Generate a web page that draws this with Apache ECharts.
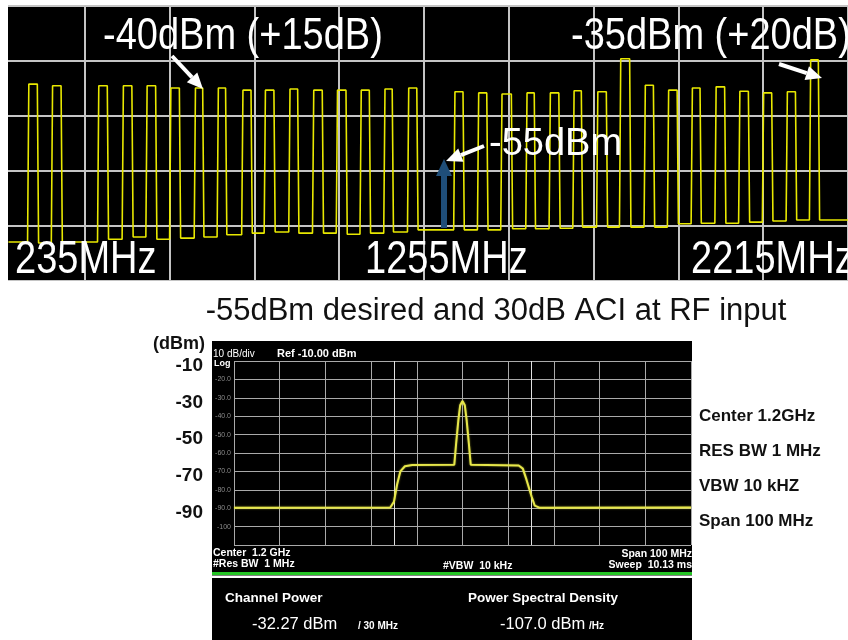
<!DOCTYPE html>
<html>
<head>
<meta charset="utf-8">
<script src="https://cdn.jsdelivr.net/npm/echarts@6/dist/echarts.min.js"></script>
<style>
  html, body { margin: 0; padding: 0; background: #fff; }
  #chart { width: 848px; height: 640px; }
</style>
</head>
<body>
<div id="chart"></div>
<script>
// ---- top panel: broadband scan, 235 MHz .. 2215 MHz, 10 dB/div ----
const chLowMHz  = [280, 336, 445, 503, 559, 615, 673, 727, 785, 838, 896, 952, 1008, 1064, 1120, 1176,
                   1285, 1341, 1396, 1455, 1510, 1566, 1622, 1676, 1734, 1789, 1845, 1901, 1957, 2013, 2069, 2124];
const chHighMHz = [306, 362, 471, 529, 585, 641, 696, 750, 810, 864, 920, 978, 1034, 1089, 1143, 1201,
                   1310, 1366, 1424, 1478, 1536, 1589, 1648, 1703, 1759, 1815, 1869, 1927, 1983, 2038, 2094, 2148];
const chTopDbm  = [-39.2, -39.5, -39.5, -39.5, -39.5, -39.9, -39.9, -39.9, -40.3, -40.3, -40.1, -40.3, -40.3, -40.3, -40.1, -39.9,
                   -40.6, -40.8, -41.0, -40.8, -40.8, -40.4, -40.6, -34.6, -39.4, -40.3, -39.9, -39.7, -40.5, -40.8, -40.6, -34.8];
// noise floor before, between and after the channels
const floorDbm  = [-67.9, -68.1, -67.9, -67.4, -67.0, -67.4, -67.2, -67.0, -66.6, -66.3, -66.1, -66.3, -66.3, -66.5, -66.3, -66.1,
                   -65.7, -65.7, -65.7, -65.5, -65.5, -65.4, -65.2, -65.2, -65.2, -65.2, -64.6, -64.5, -64.5, -64.3, -64.1, -63.9, -63.9];
const scanStartMHz = 235, scanStopMHz = 2215;
const scanLabels = ['235MHz', '1255MHz', '2215MHz'];

// ---- bottom panel: analyzer shot, center 1.2 GHz, span 100 MHz ----
const psdFreqMHz  = [1150, 1184.2, 1185.0, 1185.7, 1186.4, 1187.4, 1189, 1198.2, 1198.6, 1199.1, 1199.5, 1200,
                     1200.5, 1200.9, 1201.4, 1201.8, 1212.3, 1213.2, 1214.0, 1215.1, 1215.8, 1216.8, 1250];
const psdLevelDbm = [-89.7, -89.6, -86.5, -77, -70, -67.2, -66.5, -66.4, -55, -42, -34, -31.7,
                     -34, -42, -55, -66.4, -66.8, -68.5, -74.5, -83.5, -88.6, -89.7, -89.6];
const chanEdgesMHz = [1185, 1215];
const bigTickDbm = [-10, -30, -50, -70, -90];
const settingLabels = ['Center 1.2GHz', 'RES BW 1 MHz', 'VBW 10 kHZ', 'Span 100 MHz'];

const FONT = '"Liberation Sans", Arial, Helvetica, sans-serif';

// build the step-like trace from the channel table
const scan = [[scanStartMHz, floorDbm[0]]];
for (let i = 0; i < chLowMHz.length; i++) {
    scan.push([chLowMHz[i], floorDbm[i]]);
    scan.push([chLowMHz[i] + 3, chTopDbm[i]]);
    scan.push([chHighMHz[i] - 3, chTopDbm[i]]);
    scan.push([chHighMHz[i], floorDbm[i + 1]]);
}
scan.push([scanStopMHz, floorDbm[floorDbm.length - 1]]);

const psd = psdFreqMHz.map((f, i) => [f, psdLevelDbm[i]]);

function txt(x, y, text, font, fill, opts) {
    opts = opts || {};
    return {
        type: 'text', x: x, y: y, z: 50,
        scaleX: opts.sx || 1, scaleY: opts.sy || 1,
        style: {
            text: text, font: font, fill: fill,
            textAlign: opts.align || 'left', align: opts.align || 'left',
            textVerticalAlign: 'middle', verticalAlign: 'middle'
        }
    };
}

function arrow(x0, y0, x1, y1, color, w, head) {
    const a = Math.atan2(y1 - y0, x1 - x0);
    const bx = x1 - head * Math.cos(a), by = y1 - head * Math.sin(a);
    const px = Math.sin(a) * head * 0.45, py = -Math.cos(a) * head * 0.45;
    return [
        { type: 'line', z: 50, shape: { x1: x0, y1: y0, x2: bx, y2: by }, style: { stroke: color, lineWidth: w } },
        { type: 'polygon', z: 50, shape: { points: [[x1, y1], [bx + px, by + py], [bx - px, by - py]] }, style: { fill: color } }
    ];
}

const chart = echarts.init(document.getElementById('chart'));

const graphics = [
    // black screens
    { type: 'rect', z: -10, shape: { x: 8, y: 7, width: 840, height: 274 }, style: { fill: '#000' } },
    { type: 'rect', z: -10, shape: { x: 212, y: 341, width: 480, height: 299 }, style: { fill: '#000' } },
    // crop edges of the top screen
    { type: 'rect', z: 40, shape: { x: 0, y: 0, width: 8, height: 290 }, style: { fill: '#fff' } },
    { type: 'rect', z: 40, shape: { x: 0, y: 281, width: 848, height: 10 }, style: { fill: '#fff' } },
    // status bar separator
    { type: 'rect', z: 5, shape: { x: 212, y: 572, width: 480, height: 3 }, style: { fill: '#25c425' } },
    { type: 'rect', z: 5, shape: { x: 212, y: 575.5, width: 480, height: 2.5 }, style: { fill: '#fff' } },

    // top annotations
    txt(103, 37, '-40dBm (+15dB)', '38px ' + FONT, '#fff', { sy: 1.15 }),
    txt(571, 37, '-35dBm (+20dB)', '38px ' + FONT, '#fff', { sy: 1.15 }),
    txt(489, 145, '-55dBm', '38px ' + FONT, '#fff'),
    txt(15, 260, scanLabels[0], '38px ' + FONT, '#fff', { sy: 1.22 }),
    txt(365, 260, scanLabels[1], '38px ' + FONT, '#fff', { sy: 1.22 }),
    txt(691, 260, scanLabels[2], '38px ' + FONT, '#fff', { sy: 1.22 }),
    ...arrow(172, 56, 203, 89, '#fff', 4, 16),
    ...arrow(779, 64, 822, 78, '#fff', 4, 16),
    ...arrow(484, 146, 446, 161, '#fff', 4, 16),
    // desired-signal marker
    { type: 'rect', z: 50, shape: { x: 441, y: 175, width: 6, height: 53 }, style: { fill: '#1f4e79' } },
    { type: 'polygon', z: 50, shape: { points: [[436, 176], [452, 176], [444, 159]] }, style: { fill: '#1f4e79' } },

    // title
    txt(496, 311, '-55dBm desired and 30dB ACI at RF input', '31px ' + FONT, '#111', { align: 'center' }),

    // bottom panel outside labels
    txt(205, 344, '(dBm)', 'bold 18px ' + FONT, '#111', { align: 'right' }),
    txt(699, 416, settingLabels[0], 'bold 17px ' + FONT, '#111'),
    txt(699, 451, settingLabels[1], 'bold 17px ' + FONT, '#111'),
    txt(699, 486, settingLabels[2], 'bold 17px ' + FONT, '#111'),
    txt(699, 521, settingLabels[3], 'bold 17px ' + FONT, '#111'),

    // analyzer screen texts
    txt(213, 354, '10 dB/div', '10px ' + FONT, '#fff'),
    txt(214, 364, 'Log', 'bold 9px ' + FONT, '#fff'),
    txt(277, 354, 'Ref -10.00 dBm', 'bold 11px ' + FONT, '#fff'),
    txt(213, 553, 'Center  1.2 GHz', 'bold 10.5px ' + FONT, '#fff'),
    txt(213, 564, '#Res BW  1 MHz', 'bold 10.5px ' + FONT, '#fff'),
    txt(443, 566, '#VBW  10 kHz', 'bold 10.5px ' + FONT, '#fff'),
    txt(692, 554, 'Span 100 MHz', 'bold 10.5px ' + FONT, '#fff', { align: 'right' }),
    txt(692, 565, 'Sweep  10.13 ms', 'bold 10.5px ' + FONT, '#fff', { align: 'right' }),
    txt(225, 598, 'Channel Power', 'bold 13.5px ' + FONT, '#fff'),
    txt(468, 598, 'Power Spectral Density', 'bold 13.5px ' + FONT, '#fff'),
    txt(252, 624, '-32.27 dBm', '16.5px ' + FONT, '#fff'),
    txt(358, 626, '/ 30 MHz', 'bold 10px ' + FONT, '#fff'),
    txt(500, 624, '-107.0 dBm', '16.5px ' + FONT, '#fff'),
    txt(589, 626, '/Hz', 'bold 10px ' + FONT, '#fff')
];

const hidden = { axisLine: { show: false }, axisTick: { show: false }, axisLabel: { show: false } };

const option = {
    animation: false,
    backgroundColor: '#fff',
    grid: [
        { left: 0, top: 6, width: 860, height: 275 },
        { left: 234, top: 361, width: 457, height: 184 }
    ],
    xAxis: [
        { gridIndex: 0, type: 'value', min: 215, max: 2215, show: false },
        // graticule divisions of the scan screen
        Object.assign({ gridIndex: 0, type: 'value', min: 0, max: 10, interval: 1,
            splitLine: { show: true, lineStyle: { color: '#c4c4c4', width: 2 } } }, hidden),
        Object.assign({ gridIndex: 1, type: 'value', min: 1150, max: 1250, interval: 10,
            splitLine: { show: true, lineStyle: { color: '#a9a9a9', width: 1 } } }, hidden)
    ],
    yAxis: [
        { gridIndex: 0, type: 'value', min: -75, max: -25, show: false },
        Object.assign({ gridIndex: 0, type: 'value', min: 0, max: 5, interval: 1,
            splitLine: { show: true, lineStyle: { color: '#c4c4c4', width: 2 } } }, hidden),
        {
            gridIndex: 1, type: 'value', position: 'left', min: -110, max: -10, interval: 10,
            axisLine: { show: false }, axisTick: { show: false },
            splitLine: { show: true, lineStyle: { color: '#a9a9a9', width: 1 } },
            axisLabel: {
                show: true, margin: 3, color: '#8a8a8a', fontSize: 7, fontFamily: FONT,
                formatter: v => (v === -10 || v === -110) ? '' : (v === -100 ? '-100' : v.toFixed(1))
            }
        },
        {
            gridIndex: 1, type: 'value', position: 'left', offset: 0, min: -110, max: -10, interval: 10,
            axisLine: { show: false }, axisTick: { show: false }, splitLine: { show: false },
            axisLabel: {
                show: true, margin: 31, color: '#111', fontSize: 19, fontWeight: 'bold', fontFamily: FONT,
                verticalAlign: 'top', lineHeight: 9,
                formatter: v => bigTickDbm.indexOf(v) >= 0 ? String(v) : ''
            }
        }
    ],
    series: [
        {
            type: 'line', xAxisIndex: 0, yAxisIndex: 0, data: scan,
            symbol: 'none', silent: true, z: 10,
            lineStyle: { color: '#e8e800', width: 1.6 }
        },
        {
            type: 'line', xAxisIndex: 2, yAxisIndex: 2, data: psd,
            symbol: 'none', silent: true, z: 10,
            lineStyle: { color: '#e6e64a', width: 2, shadowColor: 'rgba(230,230,60,0.6)', shadowBlur: 2 },
            markLine: {
                silent: true, symbol: 'none', label: { show: false },
                lineStyle: { color: '#e0e0e0', width: 1, type: 'solid' },
                data: chanEdgesMHz.map(f => ({ xAxis: f }))
            }
        }
    ],
    graphic: graphics
};

chart.setOption(option);
</script>
</body>
</html>
